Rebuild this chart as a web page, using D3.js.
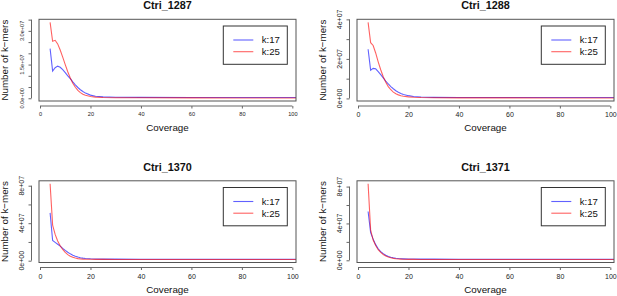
<!DOCTYPE html>
<html>
<head>
<meta charset="utf-8">
<script src="https://cdn.jsdelivr.net/npm/d3@7"></script>
<style>
  body { margin: 0; background: #fff; }
  svg { display: block; }
</style>
</head>
<body>
<div id="chart"></div>
<script>
// coverage values shared by every histogram
const coverage = [4, 5, 6, 7, 8, 9, 10, 11, 12, 13, 14, 15, 16, 17, 18, 20, 22, 25, 30, 40, 60, 80, 100, 120];

// Ctri_1287
const k17_1287 = [2.21e7, 1.21e7, 1.36e7, 1.43e7, 1.38e7, 1.27e7, 1.14e7, 1.0e7, 8.7e6, 7.3e6, 6.0e6, 4.8e6, 3.8e6, 3.0e6, 2.3e6, 1.4e6, 9e5, 6e5, 4.5e5, 3.8e5, 3.5e5, 3.3e5, 3.2e5, 3.1e5];
const k25_1287 = [3.38e7, 2.54e7, 2.58e7, 2.42e7, 2.15e7, 1.83e7, 1.5e7, 1.18e7, 9.0e6, 6.7e6, 4.9e6, 3.5e6, 2.5e6, 1.8e6, 1.3e6, 8e5, 5e5, 3.5e5, 2.5e5, 2e5, 1.7e5, 1.5e5, 1.4e5, 1.3e5];
// Ctri_1288
const k17_1288 = [2.49e7, 1.43e7, 1.52e7, 1.5e7, 1.36e7, 1.2e7, 1.04e7, 8.8e6, 7.3e6, 6.0e6, 4.9e6, 3.9e6, 3.1e6, 2.5e6, 2.0e6, 1.4e6, 1.0e6, 7e5, 5.5e5, 5e5, 4.8e5, 4.6e5, 4.5e5, 4.4e5];
const k25_1288 = [3.85e7, 2.82e7, 2.68e7, 2.3e7, 1.85e7, 1.45e7, 1.1e7, 8.2e6, 6.0e6, 4.4e6, 3.2e6, 2.4e6, 1.8e6, 1.4e6, 1.1e6, 8e5, 6e5, 4.5e5, 3.5e5, 3e5, 2.7e5, 2.5e5, 2.4e5, 2.3e5];
// Ctri_1370
const k17_1370 = [5.1e7, 2.15e7, 1.95e7, 1.75e7, 1.55e7, 1.32e7, 1.1e7, 9.0e6, 7.3e6, 5.9e6, 4.8e6, 3.9e6, 3.2e6, 2.7e6, 2.4e6, 2.0e6, 1.8e6, 1.7e6, 1.65e6, 1.6e6, 1.6e6, 1.55e6, 1.55e6, 1.55e6];
const k25_1370 = [8.2e7, 3.8e7, 2.8e7, 2.1e7, 1.6e7, 1.2e7, 8.8e6, 6.5e6, 4.8e6, 3.6e6, 2.8e6, 2.2e6, 1.9e6, 1.7e6, 1.6e6, 1.5e6, 1.45e6, 1.4e6, 1.35e6, 1.3e6, 1.3e6, 1.3e6, 1.3e6, 1.3e6];
// Ctri_1371
const k17_1371 = [5.3e7, 3.0e7, 2.3e7, 1.7e7, 1.25e7, 9.5e6, 7.2e6, 5.5e6, 4.2e6, 3.3e6, 2.7e6, 2.2e6, 1.9e6, 1.7e6, 1.6e6, 1.4e6, 1.35e6, 1.3e6, 1.25e6, 1.2e6, 1.2e6, 1.2e6, 1.2e6, 1.2e6];
const k25_1371 = [8.3e7, 3.3e7, 2.2e7, 1.6e7, 1.15e7, 8.5e6, 6.3e6, 4.7e6, 3.5e6, 2.7e6, 2.1e6, 1.7e6, 1.4e6, 1.25e6, 1.15e6, 1.05e6, 1.0e6, 9.5e5, 9.2e5, 9e5, 9e5, 9e5, 9e5, 9e5];

const panelTitles = ["Ctri_1287", "Ctri_1288", "Ctri_1370", "Ctri_1371"];
const xTicks = [0, 20, 40, 60, 80, 100];
const yTicks_1287 = [0, 5e6, 1e7, 1.5e7, 2e7, 2.5e7, 3e7, 3.5e7];
const yLabels_1287 = ["0.0e+00", "", "", "1.5e+07", "", "", "3.0e+07", ""];
const yTicks_1288 = [0, 1e7, 2e7, 3e7, 4e7];
const yLabels_1288 = ["0e+00", "", "2e+07", "", "4e+07"];
const yTicks_137x = [0, 2e7, 4e7, 6e7, 8e7];
const yLabels_137x = ["0e+00", "", "4e+07", "", "8e+07"];
const legendLabels = ["k:17", "k:25"];
const seriesColors = ["rgba(0,0,255,0.62)", "rgba(255,0,0,0.62)"];

const W = 617, H = 296;
const font = "'Liberation Sans', Arial, Helvetica, sans-serif";
const boxW = 257, boxH = 81.7;
const xDomain = [-0.4, 101.45];

const svg = d3.select("#chart").append("svg")
  .attr("width", W)
  .attr("height", H)
  .style("font-family", font);

svg.append("rect").attr("width", W).attr("height", H).attr("fill", "#fff");

const panels = [
  { title: panelTitles[0], left: 39, top: 19.3, k17: k17_1287, k25: k25_1287, ticks: yTicks_1287, labels: yLabels_1287, tickSize: 5.6 },
  { title: panelTitles[1], left: 357, top: 19.3, k17: k17_1288, k25: k25_1288, ticks: yTicks_1288, labels: yLabels_1288, tickSize: 7 },
  { title: panelTitles[2], left: 39, top: 180.8, k17: k17_1370, k25: k25_1370, ticks: yTicks_137x, labels: yLabels_137x, tickSize: 7 },
  { title: panelTitles[3], left: 357, top: 180.8, k17: k17_1371, k25: k25_1371, ticks: yTicks_137x, labels: yLabels_137x, tickSize: 7 }
];

panels.forEach((p, i) => drawPanel(p, i));

function drawPanel(p, idx) {
  const g = svg.append("g");
  const bottom = p.top + boxH;

  const all = p.k17.concat(p.k25);
  const lo = d3.min(all), hi = d3.max(all);
  const pad = (hi - lo) * 0.04;

  const x = d3.scaleLinear().domain(xDomain).range([p.left, p.left + boxW]);
  const y = d3.scaleLinear().domain([lo - pad, hi + pad]).range([bottom, p.top]);

  const clipId = "clip" + idx;
  g.append("clipPath").attr("id", clipId)
    .append("rect")
    .attr("x", p.left).attr("y", p.top)
    .attr("width", boxW).attr("height", boxH);

  const line = d3.line().x(d => x(d[0])).y(d => y(d[1]));

  [p.k17, p.k25].forEach((vals, s) => {
    g.append("path")
      .datum(coverage.map((c, j) => [c, vals[j]]))
      .attr("clip-path", `url(#${clipId})`)
      .attr("fill", "none")
      .attr("stroke", seriesColors[s])
      .attr("stroke-width", 1.1)
      .attr("d", line);
  });

  // plot frame
  g.append("rect")
    .attr("x", p.left).attr("y", p.top)
    .attr("width", boxW).attr("height", boxH)
    .attr("fill", "none")
    .attr("stroke", "#555")
    .attr("stroke-width", 1);

  // x axis, drawn a little below the frame
  const xAxis = g.append("g")
    .attr("transform", `translate(0,${bottom + 5})`)
    .call(d3.axisBottom(x).tickValues(xTicks).tickSize(2.5).tickPadding(4).tickSizeOuter(0));
  xAxis.select(".domain")
    .attr("d", `M${x(0)},0H${x(100)}`)
    .attr("stroke", "#666");
  xAxis.selectAll(".tick line").attr("stroke", "#666");
  xAxis.selectAll("text")
    .attr("fill", "#222")
    .style("font-family", font)
    .style("font-size", p.tickSize + "px");

  // y axis, drawn a little left of the frame
  const axX = p.left - 7.5;
  const yAxis = g.append("g")
    .attr("transform", `translate(${axX},0)`)
    .call(d3.axisLeft(y).tickValues(p.ticks).tickSize(3).tickFormat(""));
  yAxis.select(".domain")
    .attr("d", `M0,${y(p.ticks[0])}V${y(p.ticks[p.ticks.length - 1])}`)
    .attr("stroke", "#666");
  yAxis.selectAll(".tick line").attr("stroke", "#666");

  p.ticks.forEach((t, j) => {
    if (!p.labels[j]) return;
    g.append("text")
      .attr("transform", `translate(${axX - 8},${y(t)}) rotate(-90)`)
      .attr("text-anchor", "middle")
      .attr("fill", "#222")
      .style("font-size", p.tickSize + "px")
      .text(p.labels[j]);
  });

  // titles
  g.append("text")
    .attr("x", p.left + boxW / 2)
    .attr("y", p.top - 10)
    .attr("text-anchor", "middle")
    .attr("font-weight", "bold")
    .attr("fill", "#111")
    .style("font-size", "10.8px")
    .text(p.title);

  g.append("text")
    .attr("x", p.left + boxW / 2)
    .attr("y", bottom + 30)
    .attr("text-anchor", "middle")
    .attr("fill", "#111")
    .style("font-size", "9.8px")
    .text("Coverage");

  g.append("text")
    .attr("transform", `translate(${p.left - 31.5},${p.top + boxH / 2}) rotate(-90)`)
    .attr("text-anchor", "middle")
    .attr("fill", "#111")
    .style("font-size", "9.8px")
    .text("Number of k\u2212mers");

  // legend
  const lg = g.append("g").attr("transform", `translate(${p.left + boxW - 72.7},${p.top + 6.7})`);
  lg.append("rect")
    .attr("width", 64).attr("height", 38.3)
    .attr("fill", "#fff")
    .attr("stroke", "#333")
    .attr("stroke-width", 1);
  legendLabels.forEach((lab, s) => {
    const ly = 14 + s * 11.7;
    lg.append("line")
      .attr("x1", 10).attr("x2", 30)
      .attr("y1", ly).attr("y2", ly)
      .attr("stroke", seriesColors[s])
      .attr("stroke-width", 1.1);
    lg.append("text")
      .attr("x", 38.5).attr("y", ly)
      .attr("dy", "0.35em")
      .attr("fill", "#111")
      .style("font-size", "9.6px")
      .text(lab);
  });
}
</script>
</body>
</html>
